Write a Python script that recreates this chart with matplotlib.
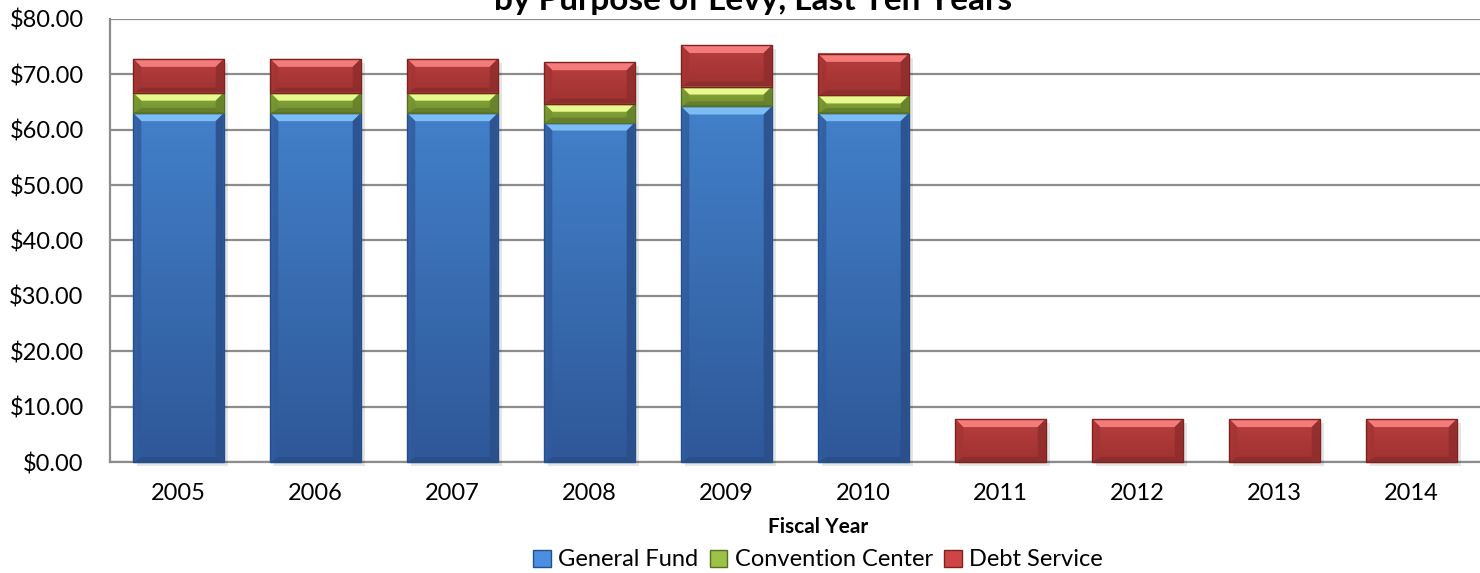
import matplotlib.pyplot as plt
import matplotlib.colors as mcolors
from matplotlib.patches import Polygon, Rectangle
import numpy as np

plt.rcParams['font.family'] = ['Lato', 'DejaVu Sans']

years = ['2005', '2006', '2007', '2008', '2009', '2010', '2011', '2012', '2013', '2014']
general_fund = [63.0, 63.0, 63.0, 61.3, 64.2, 63.0, 0, 0, 0, 0]
convention_center = [3.7, 3.7, 3.7, 3.4, 3.6, 3.2, 0, 0, 0, 0]
debt_service = [6.1, 6.1, 6.1, 7.5, 7.5, 7.5, 7.75, 7.75, 7.75, 7.75]
series_names = ['General Fund', 'Convention Center', 'Debt Service']
yticks = [0, 10, 20, 30, 40, 50, 60, 70, 80]

# top of face, bottom of face, top bevel, edge
palette = {
    'General Fund': ('#4a8fe0', '#3462aa', '#7cbdf6', '#23508c'),
    'Convention Center': ('#9cc247', '#7e9f35', '#e8fa8e', '#566f22'),
    'Debt Service': ('#cd4645', '#b03837', '#f37b79', '#7e2221'),
}


def rgb(c):
    return np.array(mcolors.to_rgb(c))


fig = plt.figure(figsize=(14.8, 5.73), dpi=100)
ax = fig.add_axes([110 / 1480, 1 - 462 / 573, 1370 / 1480, 443 / 573])

x = np.arange(len(years))
width = 0.66
bottoms = np.zeros(len(years))
patches = []
for name, vals in zip(series_names, [general_fund, convention_center, debt_service]):
    vals = np.array(vals)
    bars = ax.bar(x, vals, width, bottom=bottoms, color=palette[name][0],
                  edgecolor='none', zorder=3)
    for b, v in zip(bars, vals):
        if v > 0:
            patches.append((b, name))
    bottoms += vals

# vertical gradient on each segment face
for b, name in patches:
    top, bot = rgb(palette[name][0]), rgb(palette[name][1])
    t = np.linspace(0, 1, 64)[:, None]
    grad = (top * (1 - t) + bot * t)[:, None, :]
    ax.imshow(grad, extent=(b.get_x(), b.get_x() + b.get_width(),
                            b.get_y(), b.get_y() + b.get_height()),
              aspect='auto', origin='upper', zorder=3.5, interpolation='bilinear')

ax.set_xlim(-0.5, len(years) - 0.5)
ax.set_ylim(0, 80)
ax.set_yticks(yticks)
ax.set_yticklabels(['${:.2f}'.format(v) for v in yticks])
ax.set_xticks(x)
ax.set_xticklabels(years)
ax.tick_params(axis='both', length=0, labelsize=17)
ax.tick_params(axis='y', pad=19)
ax.tick_params(axis='x', pad=15)
ax.yaxis.grid(True, color='#8c8c8c', lw=1.6, zorder=0)
for side in ['top', 'right']:
    ax.spines[side].set_visible(False)
for side in ['left', 'bottom']:
    ax.spines[side].set_color('#8c8c8c')
    ax.spines[side].set_linewidth(1.6)

# bevelled look: trapezoids drawn in pixel space around every bar segment
fig.canvas.draw()
bev = 8
for b, name in patches:
    top, bot, light, edge = palette[name]
    (x0, y0), (x1, y1) = ax.transData.transform(
        [(b.get_x(), b.get_y()), (b.get_x() + b.get_width(), b.get_y() + b.get_height())])
    fig.add_artist(Rectangle((x0 + 4, y0 - 4), x1 - x0, y1 - y0, transform=None,
                             facecolor='#000000', alpha=0.10, edgecolor='none', zorder=2))
    ix0, ix1, iy0, iy1 = x0 + bev, x1 - bev, y0 + 5, y1 - bev
    pieces = [
        ([(x0, y1), (x1, y1), (ix1, iy1), (ix0, iy1)], rgb(light), 1.0),
        ([(x0, y0), (x1, y0), (ix1, iy0), (ix0, iy0)], rgb(bot) * 0.8, 1.0),
        ([(x0, y0), (x0, y1), (ix0, iy1), (ix0, iy0)], rgb(bot) * 0.92, 0.8),
        ([(x1, y0), (x1, y1), (ix1, iy1), (ix1, iy0)], rgb(bot) * 0.82, 0.9),
    ]
    for pts, col, a in pieces:
        fig.add_artist(Polygon(pts, closed=True, transform=None, facecolor=col,
                               alpha=a, edgecolor='none', zorder=4))
    fig.add_artist(Rectangle((x0, y0), x1 - x0, y1 - y0, transform=None,
                             facecolor='none', edgecolor=edge, lw=1, zorder=5))

fig.text(753 / 1480, 1 - 10 / 573, 'by Purpose of Levy, Last Ten Years',
         ha='center', va='baseline', fontsize=24, fontweight='bold')
fig.text(818 / 1480, 1 - 527 / 573, 'Fiscal Year', ha='center', va='center',
         fontsize=15, fontweight='bold')

handles = [Rectangle((0, 0), 1, 1, facecolor=palette[n][0], edgecolor=palette[n][3])
           for n in series_names]
fig.legend(handles, series_names, loc='center', bbox_to_anchor=(818 / 1480, 1 - 560 / 573),
           ncol=3, frameon=False, fontsize=17, handlelength=0.75, handleheight=0.75,
           handletextpad=0.3, columnspacing=0.5)

fig.savefig('out.png', dpi=100)
